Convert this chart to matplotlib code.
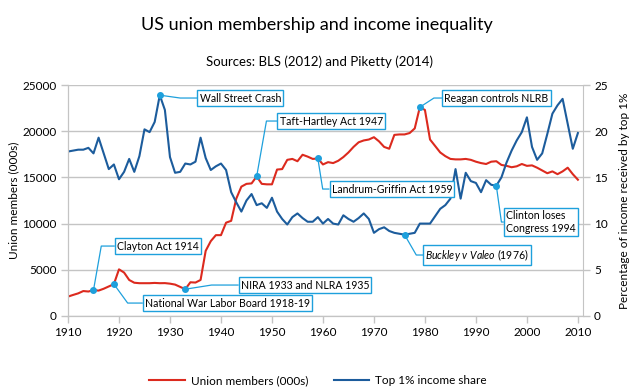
import matplotlib as mpl
mpl.use('Agg')
import matplotlib.pyplot as plt
import numpy as np

plt.rcParams['font.family'] = ['Lato', 'DejaVu Sans']
plt.rcParams['mathtext.fontset'] = 'custom'
plt.rcParams['mathtext.rm'] = 'Lato'
plt.rcParams['mathtext.it'] = 'Lato:italic'

years = np.arange(1910, 2011)

# union members (000s), BLS
union = [2100, 2280, 2450, 2700, 2650, 2800, 2750, 2950, 3200, 3450,
         5050, 4700, 3900, 3600, 3550, 3550, 3550, 3580, 3550, 3560,
         3500, 3400, 3150, 2900, 3650, 3620, 3900, 7050, 8100, 8750,
         8750, 10100, 10300, 12700, 14000, 14300, 14350, 15100, 14300, 14250,
         14250, 15850, 15900, 16900, 17000, 16750, 17450, 17250, 17000, 17050,
         16400, 16650, 16550, 16800, 17200, 17700, 18300, 18800, 19000, 19100,
         19350, 18900, 18300, 18100, 19600, 19650, 19650, 19800, 20300, 22600,
         22300, 19100, 18400, 17700, 17300, 17000, 16950, 16950, 17000, 16900,
         16700, 16550, 16450, 16700, 16750, 16350, 16250, 16100, 16200, 16450,
         16250, 16300, 16050, 15750, 15450, 15650, 15350, 15650, 16050, 15350,
         14750]

# top 1% income share (%), Piketty
top1 = [17.8, 17.9, 18.0, 18.0, 18.2, 17.6, 19.3, 17.6, 15.9, 16.4,
        14.8, 15.6, 17.0, 15.6, 17.3, 20.2, 19.9, 21.0, 23.9, 22.3,
        17.2, 15.5, 15.6, 16.5, 16.4, 16.7, 19.3, 17.1, 15.8, 16.2,
        16.5, 15.8, 13.4, 12.3, 11.3, 12.5, 13.2, 12.0, 12.2, 11.7,
        12.8, 11.3, 10.5, 9.9, 10.7, 11.1, 10.6, 10.2, 10.2, 10.7,
        10.0, 10.5, 10.0, 9.9, 10.9, 10.5, 10.2, 10.6, 11.1, 10.5,
        9.0, 9.4, 9.6, 9.2, 9.0, 8.9, 8.8, 8.9, 9.0, 10.0,
        10.0, 10.0, 10.8, 11.6, 12.0, 12.7, 15.9, 12.7, 15.5, 14.6,
        14.4, 13.4, 14.7, 14.2, 14.1, 15.0, 16.6, 17.9, 19.0, 19.9,
        21.5, 18.3, 16.9, 17.6, 19.7, 21.9, 22.8, 23.5, 20.8, 18.1,
        19.8]

# callouts: label, year, which series, text position (year, 000s), angle of leader
notes = [
    ('Clayton Act 1914', 1915, 'union', 1919.6, 7570, 80),
    ('National War Labor Board 1918-19', 1919, 'union', 1925.1, 1400, -54),
    ('Wall Street Crash', 1928, 'top1', 1935.8, 23590, -8),
    ('NIRA 1933 and NLRA 1935', 1933, 'union', 1943.9, 3350, 9),
    ('Taft-Hartley Act 1947', 1947, 'union', 1951.5, 21100, 80),
    ('Landrum-Griffin Act 1959', 1959, 'union', 1961.7, 13740, -81),
    ('$\\it{Buckley\\ v\\ Valeo}$ (1976)', 1976, 'top1', 1980.1, 6600, -60),
    ('Reagan controls NLRB', 1979, 'union', 1983.8, 23590, 33),
    ('Clinton loses\nCongress 1994', 1994, 'top1', 1995.9, 10170, -82),
]

red = '#dc2a1e'
blue = '#1c5c9c'
callout = '#1ea0dc'
grid = '#c4c4c4'

fig = plt.figure(figsize=(6.38, 3.92), dpi=100)
ax = fig.add_axes([68/638, 1-316/392, 515/638, 231/392])
ax2 = ax.twinx()

l1, = ax.plot(years, union, color=red, lw=1.5, label='Union members (000s)', solid_joinstyle='round')
l2, = ax2.plot(years, top1, color=blue, lw=1.5, label='Top 1% income share', solid_joinstyle='round')

ax.set_xlim(1910, 2011)
ax.set_ylim(0, 25000)
ax2.set_ylim(0, 25)
ax.set_xticks(range(1910, 2011, 10))
ax.set_yticks(range(0, 25001, 5000))
ax2.set_yticks(range(0, 26, 5))
ax.grid(axis='y', color=grid, lw=1)
ax.set_axisbelow(True)

for a in (ax, ax2):
    for s in a.spines.values():
        s.set_color(grid)
    a.spines['top'].set_visible(False)
    a.tick_params(color=grid, length=5, width=1, labelsize=8.5, pad=3)
ax.spines['right'].set_visible(False)

ax.set_ylabel('Union members (000s)', fontsize=8.5, labelpad=2)
ax2.set_ylabel('Percentage of income received by top 1%', fontsize=8.5, labelpad=8)

series = {'union': dict(zip(years, union)), 'top1': dict(zip(years, top1))}
for label, yr, which, tx, ty, ang in notes:
    val = series[which][yr]
    if which == 'union':
        val = val / 1000
    ax2.plot(yr, val, 'o', color=callout, ms=4, zorder=5)
    ax2.annotate(label, xy=(yr, val), xytext=(tx, ty / 1000),
                 ha='left', va='center', fontsize=7.6, zorder=6,
                 bbox=dict(boxstyle='square,pad=0.2', fc='white', ec=callout, lw=1),
                 arrowprops=dict(arrowstyle='-', color=callout, lw=0.9, relpos=(0, 0.5),
                                 shrinkA=0, shrinkB=0,
                                 connectionstyle='angle,angleA=0,angleB=%d,rad=0' % ang))

fig.text(317/638, 1-25/392, 'US union membership and income inequality', ha='center', va='center', fontsize=13)
fig.text(319/638, 1-62/392, 'Sources: BLS (2012) and Piketty (2014)', ha='center', va='center', fontsize=9.5)

fig.legend([l1, l2], [l1.get_label(), l2.get_label()], loc='center', bbox_to_anchor=(318/638, 1-381/392),
           ncol=2, frameon=False, fontsize=8.5, handlelength=3, columnspacing=2.2, handletextpad=0.5)

fig.savefig('out.png', dpi=100)
